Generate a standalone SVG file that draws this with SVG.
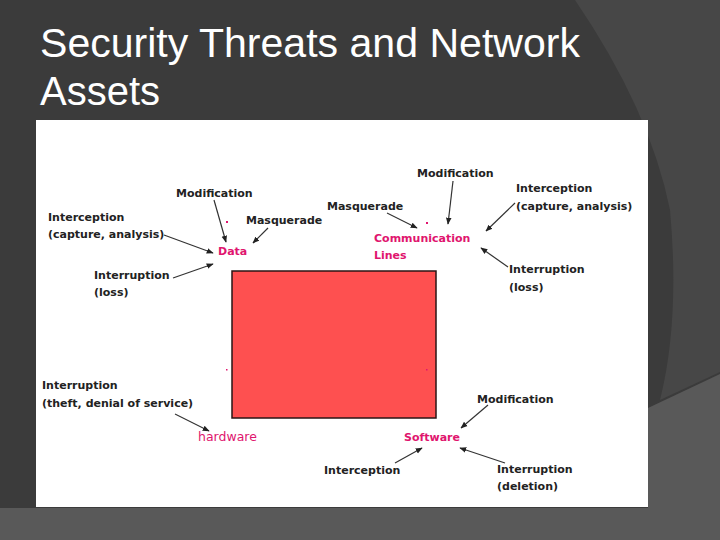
<svg xmlns="http://www.w3.org/2000/svg" width="720" height="540" viewBox="0 0 720 540">
<defs>
<marker id="ah" viewBox="0 0 10 10" refX="9" refY="5" markerWidth="7" markerHeight="7" orient="auto" markerUnits="userSpaceOnUse">
<path d="M0,1 L10,5 L0,9 Z" fill="#222"/>
</marker>
<style>
.lbl{font-family:"DejaVu Sans",Verdana,sans-serif;font-weight:bold;font-size:11px;fill:#222}
.asset{font-family:"DejaVu Sans",Verdana,sans-serif;font-weight:bold;font-size:11px;fill:#e0156e}
.assetr{font-family:"DejaVu Sans",Verdana,sans-serif;font-size:12.5px;fill:#e0156e}
.title{font-family:"Liberation Sans",Arial,sans-serif;font-size:41px;fill:#fff}
.conn line{stroke:#333;stroke-width:1.2;marker-end:url(#ah)}
.dot{fill:#e0156e}
</style>
</defs>
<rect x="0" y="0" width="720" height="540" fill="#3b3b3b"/>
<path d="M575,0 Q650,110 670,210 Q680,320 660,400 L720,372 L720,0 Z" fill="#474747"/>
<path d="M0,508 L648,508 L648,408 L720,374 L720,540 L0,540 Z" fill="#595959"/>
<text class="title" x="40" y="57" textLength="540" lengthAdjust="spacingAndGlyphs">Security Threats and Network</text>
<text class="title" x="40" y="105" textLength="120" lengthAdjust="spacingAndGlyphs">Assets</text>
<rect x="36" y="120" width="612" height="387" fill="#fff"/>
<g id="center">
<rect x="232" y="271" width="204" height="147" fill="#fe5050" stroke="#2a1414" stroke-width="1.5"/>
</g>
<g id="data">
<text class="asset" x="218" y="255">Data</text>
<rect class="dot" x="226" y="221" width="2" height="2"/>
</g>
<g id="comm">
<text class="asset" x="374" y="242">Communication</text>
<text class="asset" x="374" y="259">Lines</text>
<rect class="dot" x="426" y="222" width="2" height="2"/>
</g>
<g id="hardware">
<text class="assetr" x="198" y="441">hardware</text>
<rect class="dot" x="226" y="369" width="1.5" height="1.5"/>
</g>
<g id="software">
<text class="asset" x="404" y="441">Software</text>
<rect class="dot" x="426" y="369" width="1.5" height="1.5"/>
</g>
<g id="data-threats">
<text class="lbl" x="176" y="197">Modification</text>
<text class="lbl" x="48" y="221">Interception</text>
<text class="lbl" x="48" y="238">(capture, analysis)</text>
<text class="lbl" x="246" y="224">Masquerade</text>
<text class="lbl" x="94" y="279">Interruption</text>
<text class="lbl" x="94" y="296">(loss)</text>
</g>
<g id="comm-threats">
<text class="lbl" x="417" y="177">Modification</text>
<text class="lbl" x="516" y="192">Interception</text>
<text class="lbl" x="516" y="210">(capture, analysis)</text>
<text class="lbl" x="327" y="210">Masquerade</text>
<text class="lbl" x="509" y="273">Interruption</text>
<text class="lbl" x="509" y="291">(loss)</text>
</g>
<g id="hardware-threats">
<text class="lbl" x="42" y="389">Interruption</text>
<text class="lbl" x="42" y="407">(theft, denial of service)</text>
</g>
<g id="software-threats">
<text class="lbl" x="477" y="403">Modification</text>
<text class="lbl" x="324" y="474">Interception</text>
<text class="lbl" x="497" y="473">Interruption</text>
<text class="lbl" x="497" y="490">(deletion)</text>
</g>
<g class="conn" id="connectors">
<line x1="214" y1="200" x2="226" y2="242"/>
<line x1="164" y1="235" x2="213" y2="253"/>
<line x1="268" y1="228" x2="253" y2="243"/>
<line x1="173" y1="278" x2="213" y2="264"/>
<line x1="453" y1="181" x2="448" y2="224"/>
<line x1="515" y1="203" x2="486" y2="231"/>
<line x1="387" y1="213" x2="417" y2="228"/>
<line x1="508" y1="267" x2="481" y2="248"/>
<line x1="175" y1="414" x2="209" y2="431"/>
<line x1="488" y1="405" x2="461" y2="428"/>
<line x1="395" y1="463" x2="422" y2="448"/>
<line x1="505" y1="463" x2="460" y2="448"/>
</g>
</svg>
